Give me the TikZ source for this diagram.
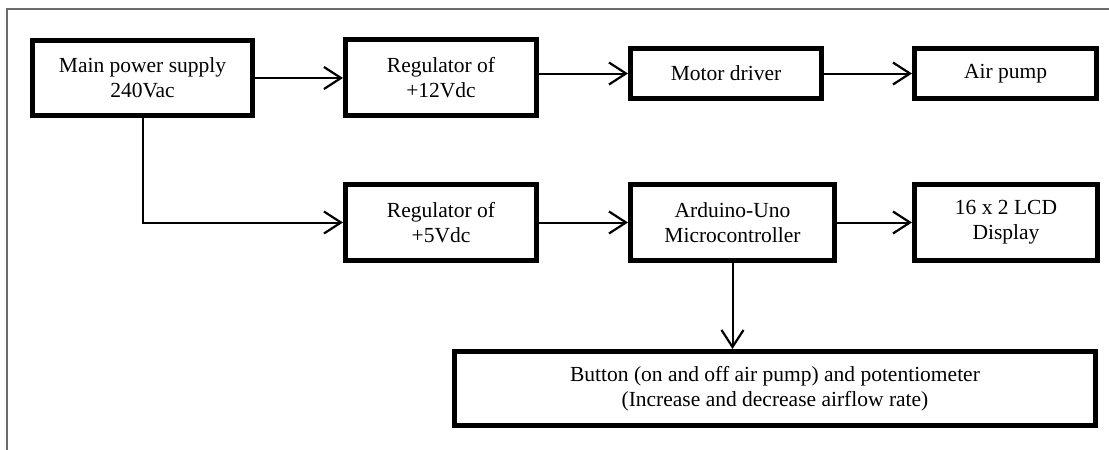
\documentclass[tikz,border=0pt]{standalone}
\usepackage{fontspec}
\setmainfont{Liberation Serif}
\usetikzlibrary{arrows.meta}
\begin{document}
\begin{tikzpicture}[x=1pt,y=-1pt,
  blk/.style={draw=black, line width=5pt, fill=white, inner sep=0pt, align=center,
    font=\fontsize{21.5}{25}\selectfont},
  conn/.style={line width=2pt, -{Straight Barb[length=17pt,width=22pt,line width=2.2pt]}},
  frame/.style={draw=black!58, line width=1.4pt}]
\useasboundingbox (0,0) rectangle (1109,450);
\draw[frame] (7,450) -- (7,9) -- (1109,9);
\node[blk, minimum width=220pt, minimum height=75pt] (main) at (142.5,78) {Main power supply\\240Vac};
\node[blk, minimum width=191pt, minimum height=76pt] (reg12) at (441,77.5) {Regulator of\\+12Vdc};
\node[blk, minimum width=191pt, minimum height=50pt] (motor) at (726,73.5) {Motor driver};
\node[blk, minimum width=182pt, minimum height=50pt] (air) at (1005.5,73.5) {Air pump};
\node[blk, minimum width=191pt, minimum height=76pt] (reg5) at (441,222.5) {Regulator of\\+5Vdc};
\node[blk, minimum width=204pt, minimum height=76pt] (ard) at (732.5,222.5) {Arduino-Uno\\Microcontroller};
\node[blk, minimum width=183pt, minimum height=76pt] (lcd) at (1006,222.5) {16 x 2 LCD\\Display};
\node[blk, minimum width=641pt, minimum height=74pt] (btn) at (775,388.5) {Button (on and off air pump) and potentiometer\\(Increase and decrease airflow rate)};
\draw[conn] (main.east) -- (main.east -| reg12.west);
\draw[conn] (reg12.east |- motor.west) -- (motor.west);
\draw[conn] (motor.east) -- (air.west);
\draw[conn] (main.south) |- (reg5.west);
\draw[conn] (reg5.east) -- (ard.west);
\draw[conn] (ard.east) -- (lcd.west);
\draw[conn] (ard.south) -- (ard.south |- btn.north);
\end{tikzpicture}
\end{document}
